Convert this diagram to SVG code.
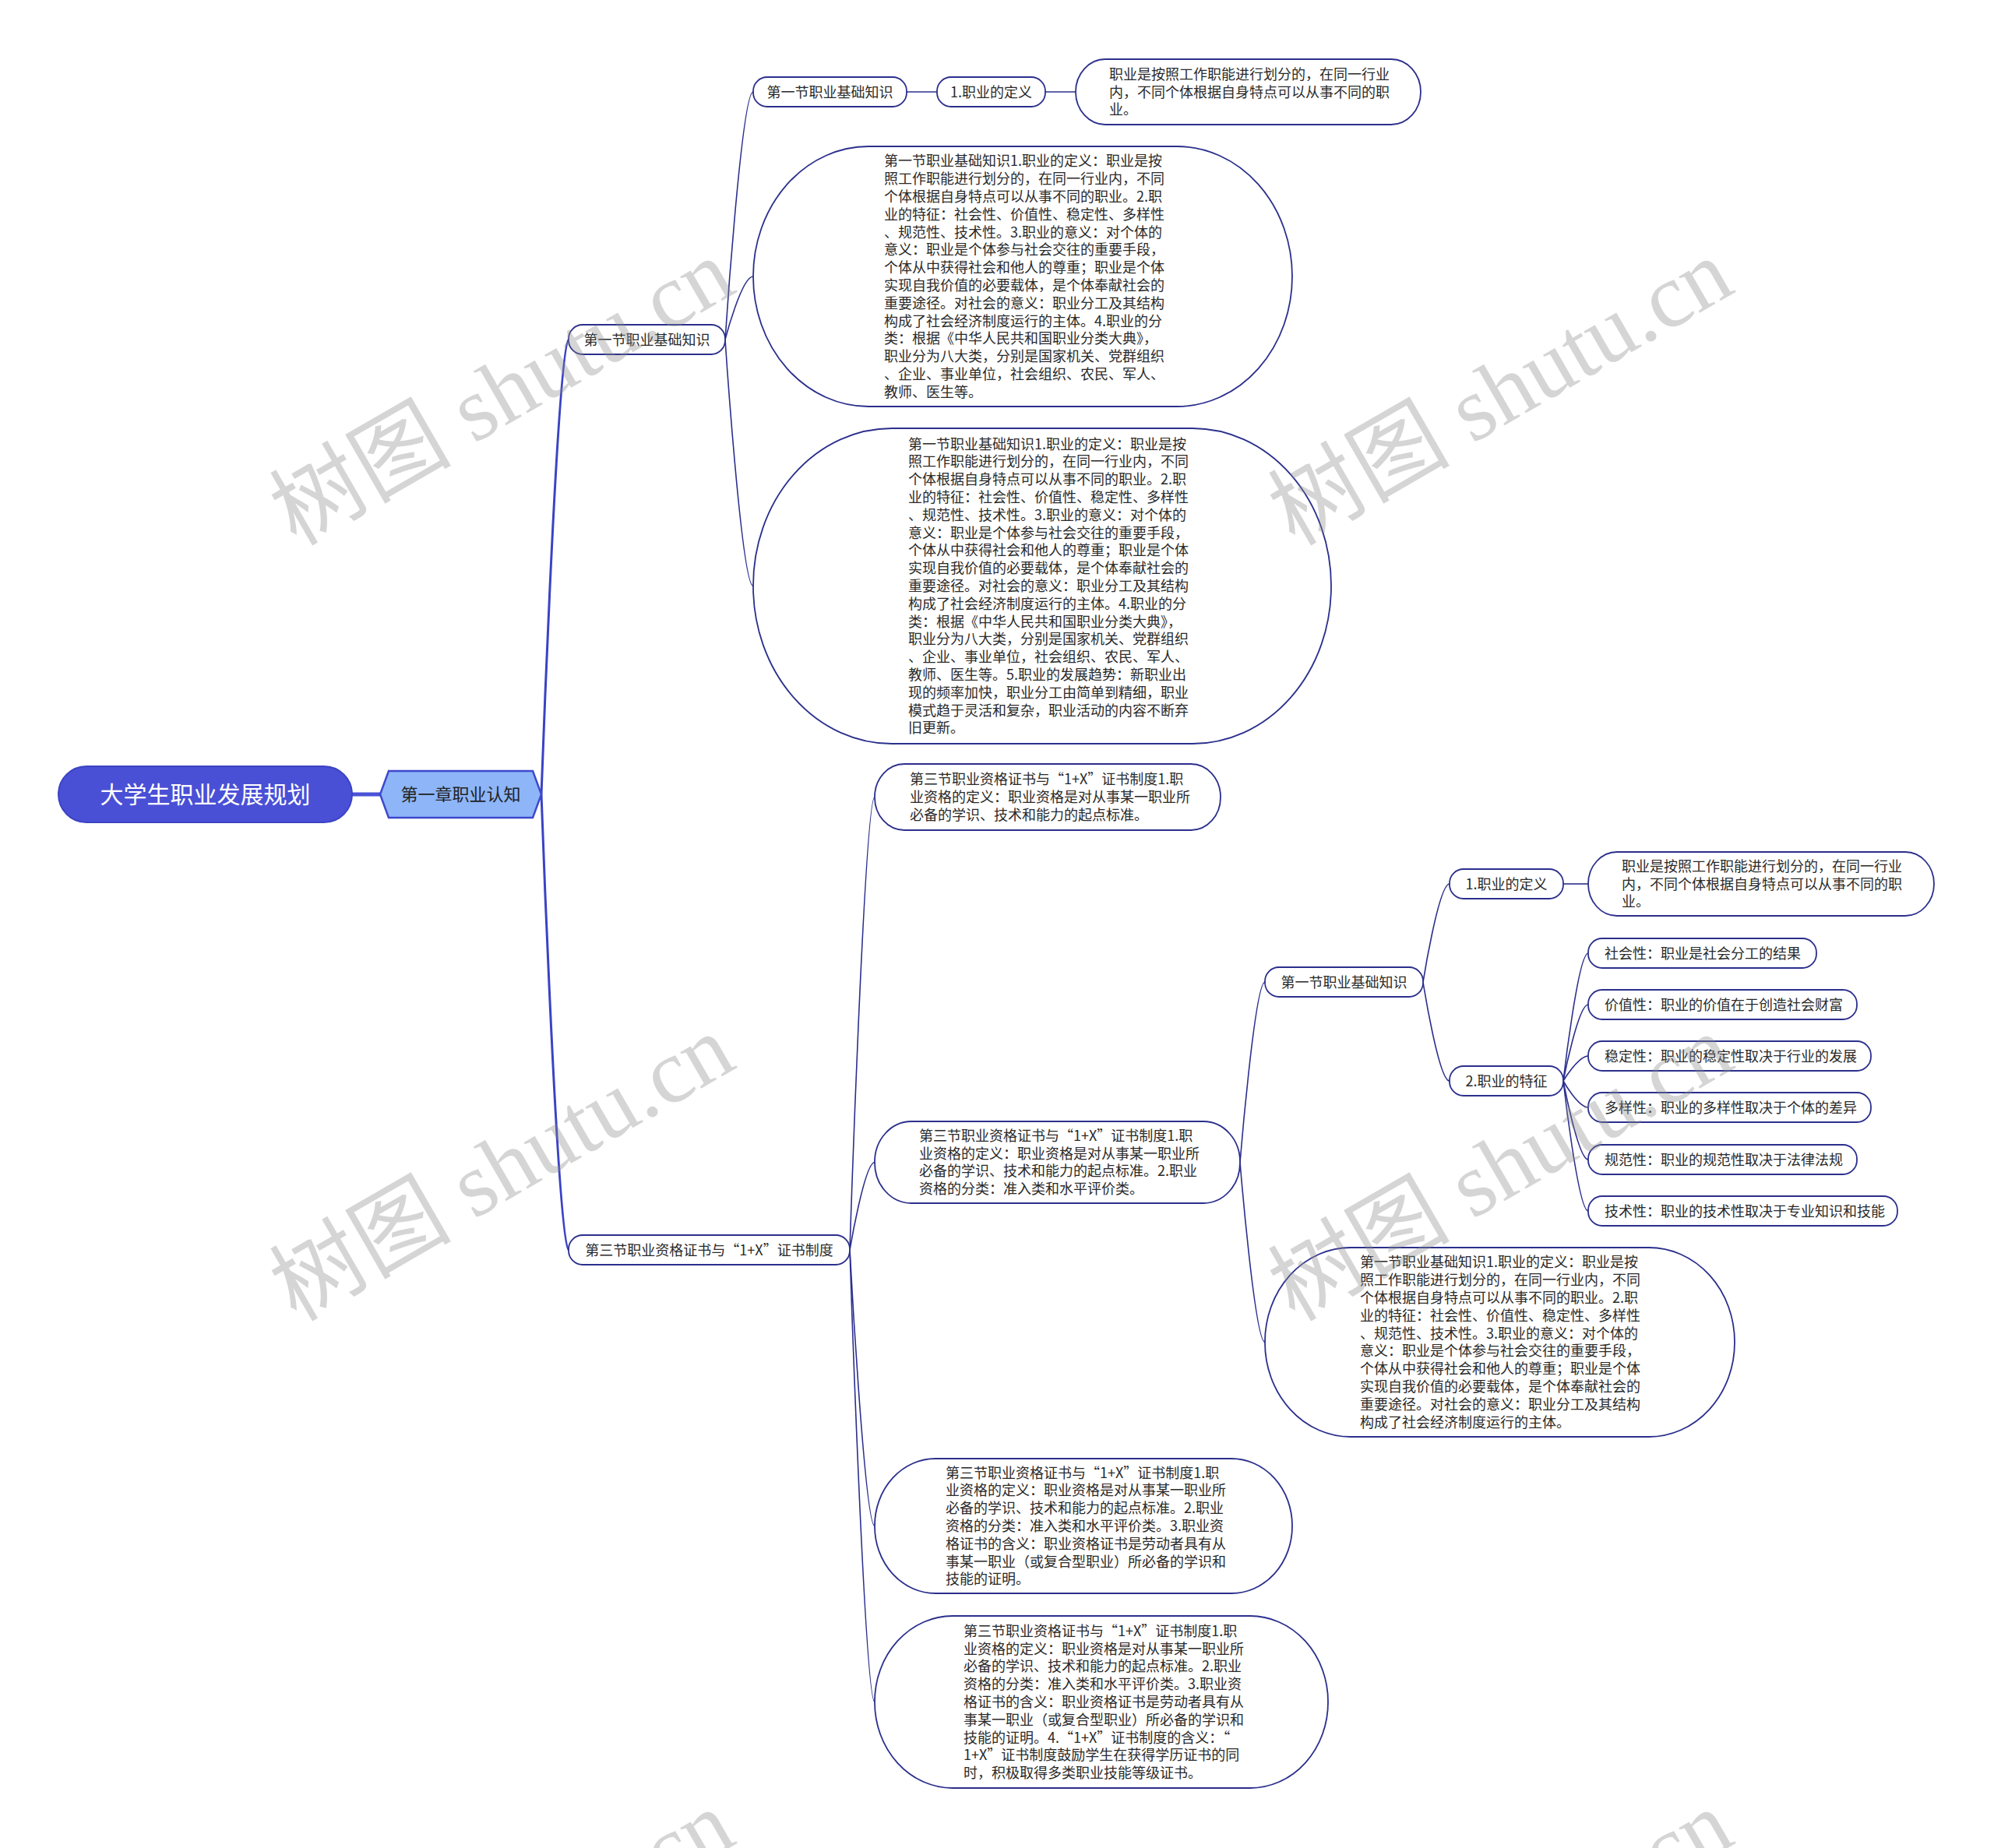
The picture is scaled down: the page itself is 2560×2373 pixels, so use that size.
<svg xmlns="http://www.w3.org/2000/svg" width="2560" height="2373" viewBox="0 0 2560 2373">
<style>
.bg{fill:#ffffff}
.cm{fill:none;stroke:#3a43c4;stroke-width:3}
.c{fill:none;stroke:#2b2f8c;stroke-width:1.6}
.p{fill:#ffffff;stroke:#2b2f8c;stroke-width:1.8}
.t{font-family:"Noto Sans CJK SC","Liberation Sans",sans-serif;font-size:18px;fill:#2a2a2a}
.tc{text-anchor:middle}
.wm{font-family:"Liberation Serif","Noto Sans CJK SC",serif;font-size:117px;fill:#8a8a8a;fill-opacity:0.36}
</style>
<rect class="bg" x="0" y="0" width="2560" height="2373"/>

<g id="connectors">
<line x1="452" y1="1020" x2="488" y2="1020" stroke="#4a52d6" stroke-width="5"/>
<path class="cm" d="M695 1020 C695 1020 716 436 730 436"/>
<path class="cm" d="M695 1020 C695 1020 716 1605 730 1605"/>
<path class="c" d="M931 436 C931 436 952 118 967 118"/>
<path class="c" d="M931 436 C931 436 952 355 967 355"/>
<path class="c" d="M931 436 C931 436 952 752.5 967 752.5"/>
<line class="c" x1="1164" y1="118" x2="1203" y2="118"/>
<line class="c" x1="1342" y1="118" x2="1381" y2="118"/>
<path class="c" d="M1091 1605 C1091 1605 1110 1023.5 1123 1023.5"/>
<path class="c" d="M1091 1605 C1091 1605 1110 1492.5 1123 1492.5"/>
<path class="c" d="M1091 1605 C1091 1605 1110 1959.5 1123 1959.5"/>
<path class="c" d="M1091 1605 C1091 1605 1110 2185.5 1123 2185.5"/>
<path class="c" d="M1592 1492.5 C1592 1492.5 1611 1261 1624 1261"/>
<path class="c" d="M1592 1492.5 C1592 1492.5 1611 1723.5 1624 1723.5"/>
<path class="c" d="M1827 1261 C1827 1261 1847 1135 1861 1135"/>
<path class="c" d="M1827 1261 C1827 1261 1847 1388 1861 1388"/>
<line class="c" x1="2007" y1="1135" x2="2039" y2="1135"/>
<path class="c" d="M2007 1388 C2007 1388 2026 1224 2039 1224"/>
<path class="c" d="M2007 1388 C2007 1388 2026 1290 2039 1290"/>
<path class="c" d="M2007 1388 C2007 1388 2026 1356 2039 1356"/>
<path class="c" d="M2007 1388 C2007 1388 2026 1422 2039 1422"/>
<path class="c" d="M2007 1388 C2007 1388 2026 1489 2039 1489"/>
<path class="c" d="M2007 1388 C2007 1388 2026 1555 2039 1555"/>
</g>

<g id="root">
<rect x="75" y="984" width="377" height="72" rx="36" ry="36" fill="#4a50d6" stroke="#3c43c2" stroke-width="2"/>
<text x="263.5" y="1031" text-anchor="middle" font-family="Noto Sans CJK SC, Liberation Sans, sans-serif" font-size="30" fill="#ffffff">大学生职业发展规划</text>
</g>

<g id="chapter">
<polygon points="488,1020 499,990 684,990 695,1020 684,1050 499,1050" fill="#8db5f8" stroke="#3f48cc" stroke-width="2.5"/>
<text x="591.5" y="1028" text-anchor="middle" font-family="Noto Sans CJK SC, Liberation Sans, sans-serif" font-size="22" fill="#222222">第一章职业认知</text>
</g>

<g id="s1">
<rect class="p" x="730" y="417" width="201" height="38" rx="18" ry="18"/>
<text class="t tc" x="830.5" y="442.5">第一节职业基础知识</text>
</g>

<g id="s1-a">
<rect class="p" x="967" y="99" width="197" height="38" rx="18" ry="18"/>
<text class="t tc" x="1065.5" y="124.5">第一节职业基础知识</text>
</g>

<g id="s1-a-def">
<rect class="p" x="1203" y="99" width="139" height="38" rx="18" ry="18"/>
<text class="t tc" x="1272.5" y="124.5">1.职业的定义</text>
</g>

<g id="s1-a-def-text">
<rect class="p" x="1381" y="76" width="443" height="84" rx="38" ry="42"/>
<text class="t" x="1424" y="101.7"><tspan x="1424">职业是按照工作职能进行划分的，在同一行业</tspan><tspan x="1424" dy="22.8">内，不同个体根据自身特点可以从事不同的职</tspan><tspan x="1424" dy="22.8">业。</tspan></text>
</g>

<g id="s1-big1">
<rect class="p" x="967" y="188" width="692" height="334" rx="148" ry="167"/>
<text class="t" x="1135" y="213.3"><tspan x="1135">第一节职业基础知识1.职业的定义：职业是按</tspan><tspan x="1135" dy="22.8">照工作职能进行划分的，在同一行业内，不同</tspan><tspan x="1135" dy="22.8">个体根据自身特点可以从事不同的职业。2.职</tspan><tspan x="1135" dy="22.8">业的特征：社会性、价值性、稳定性、多样性</tspan><tspan x="1135" dy="22.8">、规范性、技术性。3.职业的意义：对个体的</tspan><tspan x="1135" dy="22.8">意义：职业是个体参与社会交往的重要手段，</tspan><tspan x="1135" dy="22.8">个体从中获得社会和他人的尊重；职业是个体</tspan><tspan x="1135" dy="22.8">实现自我价值的必要载体，是个体奉献社会的</tspan><tspan x="1135" dy="22.8">重要途径。对社会的意义：职业分工及其结构</tspan><tspan x="1135" dy="22.8">构成了社会经济制度运行的主体。4.职业的分</tspan><tspan x="1135" dy="22.8">类：根据《中华人民共和国职业分类大典》，</tspan><tspan x="1135" dy="22.8">职业分为八大类，分别是国家机关、党群组织</tspan><tspan x="1135" dy="22.8">、企业、事业单位，社会组织、农民、军人、</tspan><tspan x="1135" dy="22.8">教师、医生等。</tspan></text>
</g>

<g id="s1-big2">
<rect class="p" x="967" y="550" width="742" height="405" rx="178" ry="202"/>
<text class="t" x="1166" y="576.6"><tspan x="1166">第一节职业基础知识1.职业的定义：职业是按</tspan><tspan x="1166" dy="22.8">照工作职能进行划分的，在同一行业内，不同</tspan><tspan x="1166" dy="22.8">个体根据自身特点可以从事不同的职业。2.职</tspan><tspan x="1166" dy="22.8">业的特征：社会性、价值性、稳定性、多样性</tspan><tspan x="1166" dy="22.8">、规范性、技术性。3.职业的意义：对个体的</tspan><tspan x="1166" dy="22.8">意义：职业是个体参与社会交往的重要手段，</tspan><tspan x="1166" dy="22.8">个体从中获得社会和他人的尊重；职业是个体</tspan><tspan x="1166" dy="22.8">实现自我价值的必要载体，是个体奉献社会的</tspan><tspan x="1166" dy="22.8">重要途径。对社会的意义：职业分工及其结构</tspan><tspan x="1166" dy="22.8">构成了社会经济制度运行的主体。4.职业的分</tspan><tspan x="1166" dy="22.8">类：根据《中华人民共和国职业分类大典》，</tspan><tspan x="1166" dy="22.8">职业分为八大类，分别是国家机关、党群组织</tspan><tspan x="1166" dy="22.8">、企业、事业单位，社会组织、农民、军人、</tspan><tspan x="1166" dy="22.8">教师、医生等。5.职业的发展趋势：新职业出</tspan><tspan x="1166" dy="22.8">现的频率加快，职业分工由简单到精细，职业</tspan><tspan x="1166" dy="22.8">模式趋于灵活和复杂，职业活动的内容不断弃</tspan><tspan x="1166" dy="22.8">旧更新。</tspan></text>
</g>

<g id="s3">
<rect class="p" x="730" y="1586" width="361" height="38" rx="18" ry="18"/>
<text class="t tc" x="910.5" y="1611.5">第三节职业资格证书与“1+X”证书制度</text>
</g>

<g id="s3-a">
<rect class="p" x="1123" y="981" width="444" height="85" rx="38" ry="42"/>
<text class="t" x="1168" y="1007.2"><tspan x="1168">第三节职业资格证书与“1+X”证书制度1.职</tspan><tspan x="1168" dy="22.8">业资格的定义：职业资格是对从事某一职业所</tspan><tspan x="1168" dy="22.8">必备的学识、技术和能力的起点标准。</tspan></text>
</g>

<g id="s3-b">
<rect class="p" x="1123" y="1440" width="469" height="105" rx="47" ry="52"/>
<text class="t" x="1180" y="1464.8"><tspan x="1180">第三节职业资格证书与“1+X”证书制度1.职</tspan><tspan x="1180" dy="22.8">业资格的定义：职业资格是对从事某一职业所</tspan><tspan x="1180" dy="22.8">必备的学识、技术和能力的起点标准。2.职业</tspan><tspan x="1180" dy="22.8">资格的分类：准入类和水平评价类。</tspan></text>
</g>

<g id="s3-b-s1">
<rect class="p" x="1624" y="1242" width="203" height="38" rx="18" ry="18"/>
<text class="t tc" x="1725.5" y="1267.5">第一节职业基础知识</text>
</g>

<g id="s3-b-s1-def">
<rect class="p" x="1861" y="1116" width="146" height="38" rx="18" ry="18"/>
<text class="t tc" x="1934" y="1141.5">1.职业的定义</text>
</g>

<g id="s3-b-s1-def-text">
<rect class="p" x="2039" y="1094" width="444" height="82" rx="37" ry="41"/>
<text class="t" x="2082" y="1118.7"><tspan x="2082">职业是按照工作职能进行划分的，在同一行业</tspan><tspan x="2082" dy="22.8">内，不同个体根据自身特点可以从事不同的职</tspan><tspan x="2082" dy="22.8">业。</tspan></text>
</g>

<g id="s3-b-s1-feat">
<rect class="p" x="1861" y="1369" width="146" height="38" rx="18" ry="18"/>
<text class="t tc" x="1934" y="1394.5">2.职业的特征</text>
</g>

<g id="f1"><rect class="p" x="2039" y="1205" width="293" height="38" rx="18" ry="18"/><text class="t" x="2060" y="1230.5">社会性：职业是社会分工的结果</text></g>
<g id="f2"><rect class="p" x="2039" y="1271" width="345" height="38" rx="18" ry="18"/><text class="t" x="2060" y="1296.5">价值性：职业的价值在于创造社会财富</text></g>
<g id="f3"><rect class="p" x="2039" y="1337" width="363" height="38" rx="18" ry="18"/><text class="t" x="2060" y="1362.5">稳定性：职业的稳定性取决于行业的发展</text></g>
<g id="f4"><rect class="p" x="2039" y="1403" width="363" height="38" rx="18" ry="18"/><text class="t" x="2060" y="1428.5">多样性：职业的多样性取决于个体的差异</text></g>
<g id="f5"><rect class="p" x="2039" y="1470" width="345" height="38" rx="18" ry="18"/><text class="t" x="2060" y="1495.5">规范性：职业的规范性取决于法律法规</text></g>
<g id="f6"><rect class="p" x="2039" y="1536" width="397" height="38" rx="18" ry="18"/><text class="t" x="2060" y="1561.5">技术性：职业的技术性取决于专业知识和技能</text></g>

<g id="s3-b-c">
<rect class="p" x="1624" y="1602" width="603" height="243" rx="110" ry="121"/>
<text class="t" x="1746" y="1627.4"><tspan x="1746">第一节职业基础知识1.职业的定义：职业是按</tspan><tspan x="1746" dy="22.8">照工作职能进行划分的，在同一行业内，不同</tspan><tspan x="1746" dy="22.8">个体根据自身特点可以从事不同的职业。2.职</tspan><tspan x="1746" dy="22.8">业的特征：社会性、价值性、稳定性、多样性</tspan><tspan x="1746" dy="22.8">、规范性、技术性。3.职业的意义：对个体的</tspan><tspan x="1746" dy="22.8">意义：职业是个体参与社会交往的重要手段，</tspan><tspan x="1746" dy="22.8">个体从中获得社会和他人的尊重；职业是个体</tspan><tspan x="1746" dy="22.8">实现自我价值的必要载体，是个体奉献社会的</tspan><tspan x="1746" dy="22.8">重要途径。对社会的意义：职业分工及其结构</tspan><tspan x="1746" dy="22.8">构成了社会经济制度运行的主体。</tspan></text>
</g>

<g id="s3-d">
<rect class="p" x="1123" y="1873" width="536" height="173" rx="78" ry="86"/>
<text class="t" x="1214" y="1897.6"><tspan x="1214">第三节职业资格证书与“1+X”证书制度1.职</tspan><tspan x="1214" dy="22.8">业资格的定义：职业资格是对从事某一职业所</tspan><tspan x="1214" dy="22.8">必备的学识、技术和能力的起点标准。2.职业</tspan><tspan x="1214" dy="22.8">资格的分类：准入类和水平评价类。3.职业资</tspan><tspan x="1214" dy="22.8">格证书的含义：职业资格证书是劳动者具有从</tspan><tspan x="1214" dy="22.8">事某一职业（或复合型职业）所必备的学识和</tspan><tspan x="1214" dy="22.8">技能的证明。</tspan></text>
</g>

<g id="s3-e">
<rect class="p" x="1123" y="2075" width="582" height="221" rx="100" ry="110"/>
<text class="t" x="1237" y="2100.8"><tspan x="1237">第三节职业资格证书与“1+X”证书制度1.职</tspan><tspan x="1237" dy="22.8">业资格的定义：职业资格是对从事某一职业所</tspan><tspan x="1237" dy="22.8">必备的学识、技术和能力的起点标准。2.职业</tspan><tspan x="1237" dy="22.8">资格的分类：准入类和水平评价类。3.职业资</tspan><tspan x="1237" dy="22.8">格证书的含义：职业资格证书是劳动者具有从</tspan><tspan x="1237" dy="22.8">事某一职业（或复合型职业）所必备的学识和</tspan><tspan x="1237" dy="22.8">技能的证明。4.“1+X”证书制度的含义：“</tspan><tspan x="1237" dy="22.8">1+X”证书制度鼓励学生在获得学历证书的同</tspan><tspan x="1237" dy="22.8">时，积极取得多类职业技能等级证书。</tspan></text>
</g>

<g id="watermarks">
<text class="wm" x="380" y="702" transform="rotate(-30 380 702)">树图 shutu.cn</text>
<text class="wm" x="1662" y="702" transform="rotate(-30 1662 702)">树图 shutu.cn</text>
<text class="wm" x="380" y="1698" transform="rotate(-30 380 1698)">树图 shutu.cn</text>
<text class="wm" x="1662" y="1698" transform="rotate(-30 1662 1698)">树图 shutu.cn</text>
<text class="wm" x="380" y="2694" transform="rotate(-30 380 2694)">树图 shutu.cn</text>
<text class="wm" x="1662" y="2694" transform="rotate(-30 1662 2694)">树图 shutu.cn</text>
</g>
</svg>
